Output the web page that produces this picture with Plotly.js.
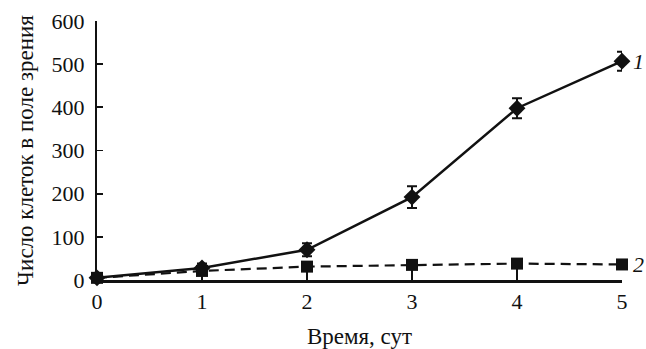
<!DOCTYPE html>
<html><head><meta charset="utf-8">
<script src="https://cdn.plot.ly/plotly-3.0.1.min.js"></script>
<style>html,body{margin:0;padding:0;background:#fff;}#chart{width:646px;height:349px;}</style>
</head><body><div id="chart"></div>
<script>
const days = [0, 1, 2, 3, 4, 5];
const series1 = [5, 28, 70, 192, 398, 507];
const series1Err = [0, 10, 15, 25, 23, 22];
const series2 = [5, 21, 31, 35, 38, 36];
const xTicks = [0, 1, 2, 3, 4, 5];
const yTicks = [0, 100, 200, 300, 400, 500, 600];
const seriesLabels = ['1', '2'];

const font = 'Liberation Serif';
const data = [
  {x: days, y: series2, type: 'scatter', mode: 'lines+markers', cliponaxis: false,
   line: {color: '#111', width: 2.2, dash: '10px,6px'},
   marker: {symbol: 'square', size: 12, color: '#111'}},
  {x: days, y: series1, type: 'scatter', mode: 'lines+markers', cliponaxis: false,
   line: {color: '#111', width: 2.5},
   marker: {symbol: 'diamond', size: 13, color: '#111'},
   error_y: {type: 'data', array: series1Err, visible: true, color: '#111', thickness: 2, width: 5}}
];
const layout = {
  width: 646, height: 349,
  margin: {l: 97, r: 24, t: 21, b: 69},
  showlegend: false,
  font: {family: font, color: '#111', size: 22},
  xaxis: {range: [0, 5], tickvals: xTicks, ticktext: xTicks.map(String),
    ticks: 'inside', ticklen: 13, tickwidth: 1.8, tickcolor: '#111',
    showline: true, linecolor: '#111', linewidth: 2.5, showgrid: false, zeroline: false,
    title: {text: 'Время, сут', font: {family: font, size: 23}, standoff: 15}},
  yaxis: {range: [0, 600], tickvals: yTicks, ticktext: yTicks.map(v => v + '\u00a0'),
    ticks: 'inside', ticklen: 6, tickwidth: 1.8, tickcolor: '#111',
    showline: true, linecolor: '#111', linewidth: 2.5, showgrid: false, zeroline: false,
    title: {text: 'Число клеток в поле зрения', font: {family: font, size: 23}, standoff: 12}},
  annotations: [
    {x: days[5], y: series1[5], text: '<i>' + seriesLabels[0] + '</i>', showarrow: false, xanchor: 'left', xshift: 9, font: {family: font, size: 22}},
    {x: days[5], y: series2[5], text: '<i>' + seriesLabels[1] + '</i>', showarrow: false, xanchor: 'left', xshift: 9, font: {family: font, size: 22}}
  ]
};
Plotly.newPlot('chart', data, layout, {staticPlot: true});
</script></body></html>
